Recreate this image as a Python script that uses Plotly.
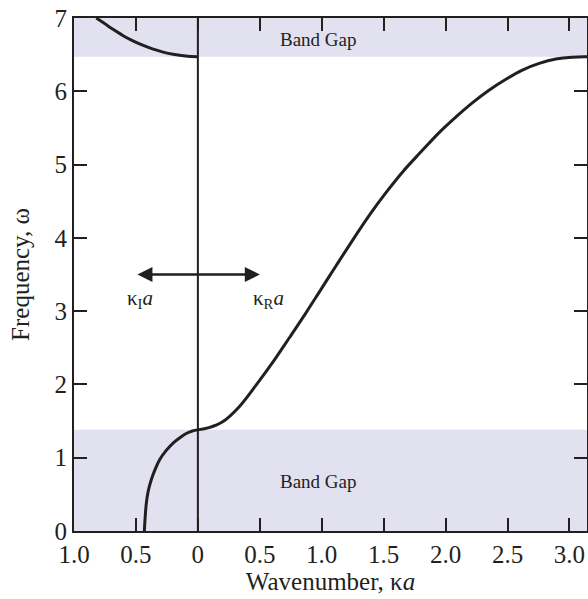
import plotly.graph_objects as go

# Real branch (kappa_R a, omega)
kr = [0.0, 0.09, 0.2, 0.336, 0.47, 0.604, 0.74, 0.874, 0.98, 1.116, 1.25, 1.385, 1.52,
      1.653, 1.788, 1.95, 2.084, 2.218, 2.35, 2.487, 2.62, 2.756, 2.89, 3.02, 3.1416]
wr = [1.38, 1.41, 1.49, 1.70, 1.99, 2.30, 2.64, 2.98, 3.26, 3.62, 3.97, 4.31, 4.62,
      4.90, 5.15, 5.44, 5.65, 5.845, 6.015, 6.165, 6.29, 6.38, 6.44, 6.466, 6.47]

# Imaginary branch, lower (kappa_I a, omega)
ki_low = [0.432, 0.425, 0.416, 0.40, 0.376, 0.345, 0.31, 0.26, 0.20, 0.14, 0.094, 0.045, 0.0]
wi_low = [0.0, 0.20, 0.38, 0.55, 0.70, 0.84, 0.97, 1.09, 1.20, 1.28, 1.33, 1.365, 1.38]

# Imaginary branch, upper
ki_up = [0.82, 0.75, 0.685, 0.60, 0.52, 0.44, 0.36, 0.28, 0.20, 0.10, 0.0]
wi_up = [7.0, 6.92, 6.845, 6.755, 6.685, 6.625, 6.575, 6.535, 6.505, 6.48, 6.47]

gap_low = [0.0, 1.38]
gap_up = [6.47, 7.0]

xtick_vals = [-1.0, -0.5, 0.0, 0.5, 1.0, 1.5, 2.0, 2.5, 3.0]
xtick_text = ["1.0", "0.5", "0", "0.5", "1.0", "1.5", "2.0", "2.5", "3.0"]
ytick_vals = [0, 1, 2, 3, 4, 5, 6, 7]

ink = "#231f20"
band = "#e1e1f0"
font = "Liberation Serif"

fig = go.Figure()
for xs, ys in ((kr, wr), ([-v for v in ki_low], wi_low), ([-v for v in ki_up], wi_up)):
    fig.add_trace(go.Scatter(x=xs, y=ys, mode="lines",
                             line=dict(color=ink, width=3, shape="spline", smoothing=1.0),
                             showlegend=False, hoverinfo="skip"))

for g in (gap_low, gap_up):
    fig.add_shape(type="rect", xref="paper", yref="y", x0=0, x1=1, y0=g[0], y1=g[1],
                  fillcolor=band, line_width=0, layer="below")
fig.add_shape(type="line", xref="x", yref="y", x0=0, x1=0, y0=0, y1=7,
              line=dict(color=ink, width=2))

fig.add_annotation(x=0.97, y=6.70, text="Band Gap", showarrow=False,
                   font=dict(family=font, size=19, color=ink))
fig.add_annotation(x=0.97, y=0.68, text="Band Gap", showarrow=False,
                   font=dict(family=font, size=19, color=ink))
# double-headed arrow
fig.add_annotation(x=0.5, y=3.5, ax=-0.5, ay=3.5, xref="x", yref="y", axref="x", ayref="y",
                   text="", showarrow=True, arrowhead=2, startarrowhead=2, arrowside="end+start",
                   arrowsize=1.2, startarrowsize=1.2, arrowwidth=2.5, arrowcolor=ink)
fig.add_annotation(x=-0.47, y=3.17, text="κ<sub>I</sub><i>a</i>", showarrow=False,
                   font=dict(family=font, size=21, color=ink))
fig.add_annotation(x=0.57, y=3.17, text="κ<sub>R</sub><i>a</i>", showarrow=False,
                   font=dict(family=font, size=21, color=ink))

axis_common = dict(showline=True, linecolor=ink, linewidth=2, mirror="ticks", ticks="inside",
                   ticklen=13, tickwidth=2, tickcolor=ink, showgrid=False, zeroline=False,
                   automargin=False, tickfont=dict(family=font, size=25, color=ink))
fig.update_xaxes(range=[-1.0, 3.1416], tickvals=xtick_vals, ticktext=xtick_text,
                 title=dict(text="Wavenumber, κ<i>a</i>", font=dict(family=font, size=25, color=ink),
                            standoff=4),
                 **axis_common)
fig.update_yaxes(range=[0, 7], tickvals=ytick_vals,
                 title=dict(text="Frequency, ω", font=dict(family=font, size=25, color=ink), standoff=18),
                 **axis_common)

fig.update_layout(width=588, height=599, margin=dict(l=74, r=1, t=18, b=68),
                  plot_bgcolor="white", paper_bgcolor="white")

fig.write_html("out.html", config={"displayModeBar": False},
               post_script="document.body.style.margin='0';")
